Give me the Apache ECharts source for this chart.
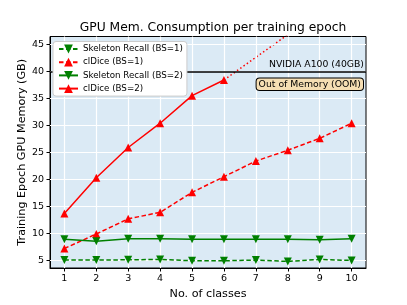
<!DOCTYPE html>
<html><head><meta charset="utf-8">
<script src="https://cdn.jsdelivr.net/npm/echarts@6/dist/echarts.min.js"></script>
<style>html,body{margin:0;padding:0;background:#fff}#c{width:407px;height:305px}</style>
</head><body><div id="c"></div>
<script>
const classes = [1, 2, 3, 4, 5, 6, 7, 8, 9, 10];
const skelBS1 = [5.06, 5.06, 5.12, 5.18, 4.94, 4.94, 5.06, 4.82, 5.18, 5.0];
const cldiceBS1 = [7.2, 9.9, 12.7, 13.9, 17.6, 20.5, 23.4, 25.4, 27.6, 30.4];
const skelBS2 = [8.9, 8.55, 9.0, 9.0, 8.9, 8.9, 8.9, 8.9, 8.85, 9.0];
const cldiceBS2 = [13.7, 20.3, 25.9, 30.4, 35.5, 38.4];
const oomClasses = [6, 7, 8, 9, 10];
const oomExtrap = [38.4, 42.6, 46.8, 51.0, 55.2];
const yTicks = [5, 10, 15, 20, 25, 30, 35, 40, 45];
const xTicks = classes;
const gpuLimit = 40;
const gpuLabel = 'NVIDIA A100 (40GB)';
const oomLabel = 'Out of Memory (OOM)';

const pairs = (xs, ys) => ys.map((v, i) => [xs[i], v]);
const font = 'DejaVu Sans';
const chart = echarts.init(document.getElementById('c'), null, {renderer: 'canvas'});
const tri = 8;
chart.setOption({
  animation: false,
  textStyle: {fontFamily: font},
  title: {text: 'GPU Mem. Consumption per training epoch', left: 208, top: 17, textAlign: 'center',
    textStyle: {fontFamily: font, fontSize: 12.3, fontWeight: 'normal', color: '#000'}},
  grid: {left: 50, right: 41, top: 36.5, bottom: 34.3, show: true, backgroundColor: '#dbeaf5',
    borderColor: '#000', borderWidth: 1},
  legend: {orient: 'vertical', left: 53, top: 41.5, padding: [2, 4, 2, 5], itemGap: 2.2, z: 20,
    itemWidth: 19, itemHeight: 11, backgroundColor: '#ffffff', borderColor: '#cccccc',
    borderWidth: 1, borderRadius: 3,
    textStyle: {fontFamily: font, fontSize: 8.7, lineHeight: 11, color: '#000'},
    data: ['Skeleton Recall (BS=1)', 'clDice (BS=1)', 'Skeleton Recall (BS=2)', 'clDice (BS=2)']},
  xAxis: {type: 'value', min: 0.55, max: 10.45, name: 'No. of classes', nameLocation: 'middle', nameGap: 21,
    nameMoveOverlap: false,
    nameTextStyle: {fontFamily: font, fontSize: 11.2, color: '#000'},
    axisLine: {show: true, lineStyle: {color: '#000', width: 1}},
    axisTick: {show: true, length: 3.5, customValues: xTicks, lineStyle: {color: '#000'}},
    axisLabel: {customValues: xTicks, margin: 6, fontFamily: font, fontSize: 9.5, color: '#000'},
    splitLine: {show: false}},
  yAxis: {type: 'value', min: 3.6, max: 46.45, name: 'Training Epoch GPU Memory (GB)', nameLocation: 'middle', nameGap: 22,
    nameMoveOverlap: false,
    nameTextStyle: {fontFamily: font, fontSize: 11.2, color: '#000'},
    axisLine: {show: true, lineStyle: {color: '#000', width: 1}},
    axisTick: {show: true, length: 3.5, customValues: yTicks, lineStyle: {color: '#000'}},
    axisLabel: {customValues: yTicks, margin: 6, fontFamily: font, fontSize: 9.5, color: '#000'},
    splitLine: {show: false}},
  graphic: [{type: 'text', right: 43, top: 77.5, z: 100,
    style: {text: oomLabel, fontFamily: font, fontSize: 9.3, fill: '#000', backgroundColor: '#f5deb3',
      borderColor: '#000', borderWidth: 1, borderRadius: 3, padding: [1.5, 2, 1, 2]}}],
  series: [
    {type: 'line', name: '_grid', data: [], z: 1, silent: true,
      markLine: {silent: true, symbol: 'none', label: {show: false}, animation: false,
        lineStyle: {color: '#ffffff', width: 1.2, type: 'solid'},
        data: yTicks.map(v => ({yAxis: v})).concat(xTicks.map(v => ({xAxis: v})))}},
    {type: 'line', name: '_limit', data: [], z: 3, silent: true,
      markLine: {silent: true, symbol: 'none', animation: false,
        lineStyle: {color: '#000', width: 1.5, type: 'solid'},
        label: {show: true, position: 'insideEndTop', distance: [2, 2], formatter: gpuLabel,
          fontFamily: font, fontSize: 9.3, color: '#000'},
        data: [{yAxis: gpuLimit}]}},
    {type: 'line', name: '_oom', data: pairs(oomClasses, oomExtrap), z: 4, showSymbol: false, symbol: 'none',
      lineStyle: {color: '#ff0000', width: 1.5, type: [1.5, 2.5]}, clip: true},
    {type: 'line', name: 'Skeleton Recall (BS=1)', data: pairs(classes, skelBS1), z: 5,
      symbol: 'triangle', symbolRotate: 180, symbolSize: tri, itemStyle: {color: '#008000'},
      lineStyle: {color: '#008000', width: 1.5, type: [4.5, 2.5]}},
    {type: 'line', name: 'clDice (BS=1)', data: pairs(classes, cldiceBS1), z: 5,
      symbol: 'triangle', symbolSize: tri, itemStyle: {color: '#ff0000'},
      lineStyle: {color: '#ff0000', width: 1.5, type: [4.5, 2.5]}},
    {type: 'line', name: 'Skeleton Recall (BS=2)', data: pairs(classes, skelBS2), z: 5,
      symbol: 'triangle', symbolRotate: 180, symbolSize: tri, itemStyle: {color: '#008000'},
      lineStyle: {color: '#008000', width: 1.5, type: 'solid'}},
    {type: 'line', name: 'clDice (BS=2)', data: pairs(classes, cldiceBS2), z: 5,
      symbol: 'triangle', symbolSize: tri, itemStyle: {color: '#ff0000'},
      lineStyle: {color: '#ff0000', width: 1.5, type: 'solid'}}
  ]
});
</script></body></html>
